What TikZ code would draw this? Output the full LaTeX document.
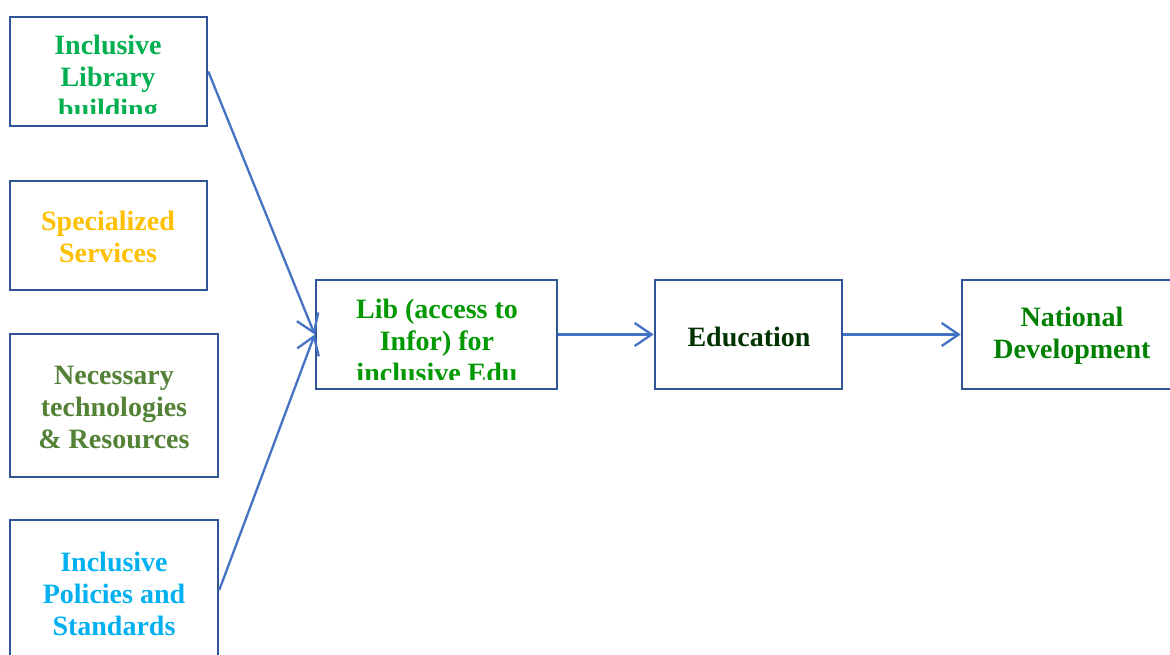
\documentclass[tikz,border=0pt]{standalone}
\usepackage{fontspec}
\setmainfont{Liberation Serif}
\usepackage{tikz}
\usetikzlibrary{arrows.meta}
\definecolor{boxblue}{RGB}{47,85,151}
\definecolor{lineblue}{RGB}{68,114,196}
\definecolor{buildgreen}{RGB}{0,176,80}
\definecolor{servgold}{RGB}{255,192,0}
\definecolor{techgreen}{RGB}{83,129,53}
\definecolor{policyblue}{RGB}{0,176,240}
\definecolor{libgreen}{RGB}{0,153,0}
\definecolor{edugreen}{RGB}{0,51,0}
\definecolor{natgreen}{RGB}{0,128,0}
\tikzset{
	boxstyle/.style={rectangle,draw=boxblue,line width=2.6pt,fill=white,inner sep=0pt},
	labelstyle/.style={align=center,font=\bfseries\fontsize{28}{32}\selectfont,inner sep=0pt},
	arrowstyle/.style={draw=lineblue,line width=2.3pt,-{Straight Barb[length=17pt,width=23pt]}}
}
\begin{document}
\begin{tikzpicture}[x=1pt,y=-1pt]
	\useasboundingbox (0,0) rectangle (1170,655);
	\clip (0,0) rectangle (1170,655);
	% boxes
	\node[boxstyle,minimum width=197pt,minimum height=109pt] (build) at (108.5,71.5) {};
	\node[boxstyle,minimum width=197pt,minimum height=109pt] (serv) at (108.5,235.5) {};
	\node[boxstyle,minimum width=208pt,minimum height=143pt] (tech) at (114,405.5) {};
	\node[boxstyle,minimum width=208pt,minimum height=140pt] (policy) at (114,590) {};
	\node[boxstyle,minimum width=241pt,minimum height=109pt] (lib) at (436.5,334.5) {};
	\node[boxstyle,minimum width=187pt,minimum height=109pt] (edu) at (748.5,334.5) {};
	\node[boxstyle,minimum width=216pt,minimum height=109pt] (nat) at (1070,334.5) {};
	% texts
	\begin{scope}
		\clip (12,19) rectangle (205,114);
		\node[labelstyle,text=buildgreen] (buildtext) at (108,80) {Inclusive\\Library\\building};
	\end{scope}
	\node[labelstyle,text=servgold] (servtext) at (108,237) {Specialized\\Services};
	\node[labelstyle,text=techgreen] (techtext) at (114,408) {Necessary\\technologies\\\& Resources};
	\node[labelstyle,text=policyblue] (policytext) at (114,594) {Inclusive\\Policies and\\Standards};
	\begin{scope}
		\clip (318,282) rectangle (555,379);
		\node[labelstyle,text=libgreen] (libtext) at (437,341) {Lib (access to\\Infor) for\\inclusive Edu};
	\end{scope}
	\node[labelstyle,text=edugreen] (edutext) at (749,337) {Education};
	\node[labelstyle,text=natgreen] (nattext) at (1072,336) {National\\Development};
	% connectors
	\draw[arrowstyle] (build.east) -- (lib.west);
	\draw[arrowstyle] (policy.east) -- (lib.west);
	\draw[arrowstyle] (lib.east) -- (edu.west);
	\draw[arrowstyle] (edu.east) -- (nat.west);
\end{tikzpicture}
\end{document}
